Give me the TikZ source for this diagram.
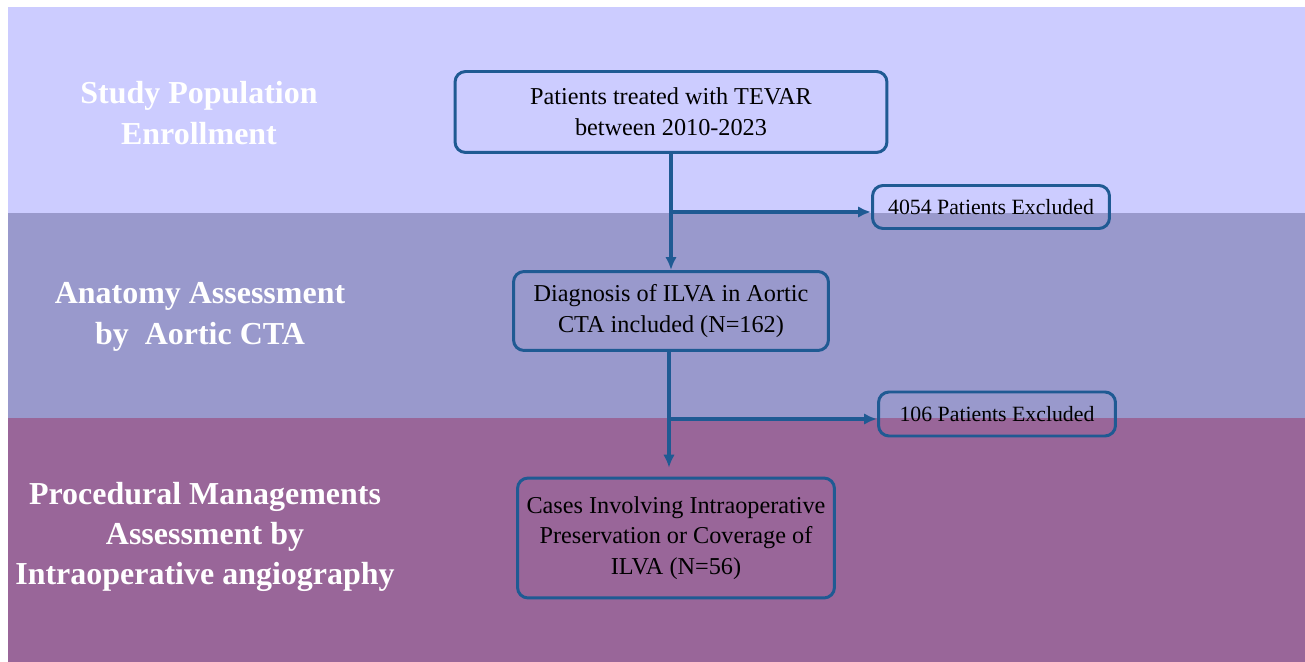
\documentclass[tikz,border=0pt]{standalone}
\usepackage{fontspec}
\setmainfont{Liberation Serif}
\usetikzlibrary{arrows.meta}

\definecolor{bandA}{HTML}{CCCCFF}
\definecolor{bandB}{HTML}{9999CC}
\definecolor{bandC}{HTML}{996699}
\definecolor{flowblue}{HTML}{1F5A93}

\tikzset{
	flowbox/.style={draw=flowblue, line width=1.7pt, rounded corners=6pt, align=center, inner sep=2pt, font=\fontsize{13.8}{17.5}\selectfont},
	exclbox/.style={flowbox, font=\fontsize{12.4}{15}\selectfont},
	phase/.style={text=white, align=center, font=\fontsize{18.2}{23}\selectfont\bfseries},
	flow/.style={draw=flowblue, line width=1.8pt}
}

\begin{document}
\begin{tikzpicture}[x=0.02cm, y=-0.02cm, >={Latex[length=2.6mm,width=2.3mm]}]
	\useasboundingbox (0,0) rectangle (1305,662);
	\fill[bandA] (8,7) rectangle (1305,213);
	\fill[bandB] (8,213) rectangle (1305,418);
	\fill[bandC] (8,418) rectangle (1305,662);

	\node at (199,113) [phase] (p1) {Study Population\\Enrollment};
	\node at (200,317) [phase] (p2) {Anatomy Assessment\\by~~Aortic CTA};
	\node at (205,537) [phase] (p3) {Procedural Managements\\Assessment by\\Intraoperative angiography};

	\node at (671,112) [flowbox, minimum width=8.64cm, minimum height=1.62cm] (b1) {Patients treated with TEVAR\\between 2010-2023};
	\node at (991,207) [exclbox, minimum width=4.74cm, minimum height=0.86cm] (e1) {4054 Patients Excluded};
	\node at (671,311) [flowbox, minimum width=6.3cm, minimum height=1.58cm] (b2) {Diagnosis of ILVA in Aortic\\CTA included (N=162)};
	\node at (997,414) [exclbox, minimum width=4.74cm, minimum height=0.88cm] (e2) {106 Patients Excluded};
	\node at (676,538) [flowbox, minimum width=6.34cm, minimum height=2.4cm] (b3) {Cases Involving Intraoperative\\Preservation or Coverage of\\ILVA (N=56)};
	\coordinate (j1) at (671,212);
	\coordinate (j2) at (669,419);

	\draw [->, flow] (b1) -- (b2);
	\draw [->, flow] (j1) -- (j1 -| e1.west);
	\draw [->, flow, shorten >=5pt] (j2 |- b2.south) -- (j2 |- b3.north);
	\draw [->, flow] (j2) -- (j2 -| e2.west);
\end{tikzpicture}
\end{document}
